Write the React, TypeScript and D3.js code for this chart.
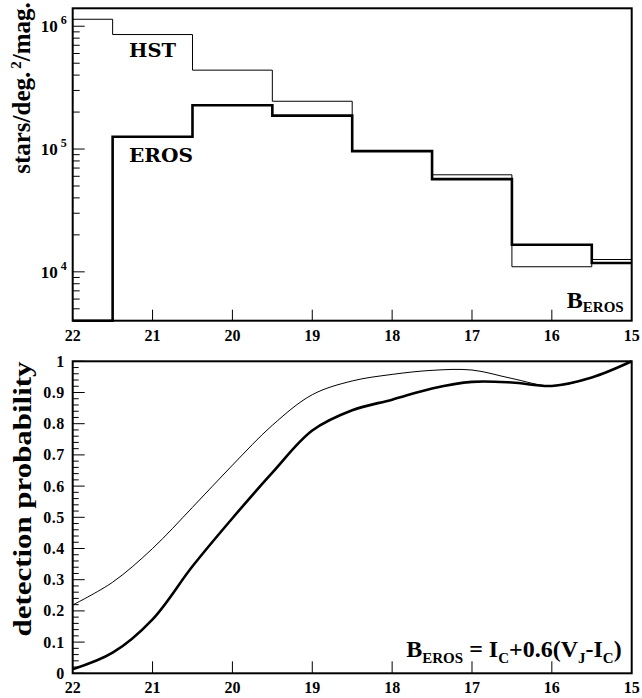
import React, { useEffect, useRef } from 'react';
import * as d3 from 'd3';

// histogram bins (B_EROS magnitude edges, faint -> bright)
const binEdges = [22, 21.5, 20.5, 19.5, 18.5, 17.5, 16.5, 15.5, 15];
const hstCounts = [1.14e6, 8.56e5, 4.39e5, 2.45e5, 9.62e4, 6.17e4, 1.1e4, 1.26e4];
const erosCounts = [1e3, 1.26e5, 2.27e5, 1.87e5, 9.62e4, 5.69e4, 1.66e4, 1.18e4];

// detection probability curves
const curveMag = [22, 21.5, 21, 20.5, 20, 19.5, 19, 18.5, 18, 17.5, 17, 16.5, 16, 15.5, 15];
const thinProb = [0.219, 0.292, 0.4, 0.532, 0.667, 0.795, 0.893, 0.937, 0.958, 0.971, 0.972, 0.945, 0.921, 0.948, 1.0];
const thickProb = [0.013, 0.066, 0.173, 0.343, 0.497, 0.643, 0.778, 0.843, 0.877, 0.913, 0.934, 0.932, 0.921, 0.948, 1.0];

const xTicks = [22, 21, 20, 19, 18, 17, 16, 15];
const decadeTicks = [4, 5, 6];
const probTicks = [0, 0.1, 0.2, 0.3, 0.4, 0.5, 0.6, 0.7, 0.8, 0.9, 1];

const W = 642;
const H = 698;
const SERIF = '"Liberation Serif", "Times New Roman", serif';
const SLAB = '"DejaVu Serif", serif';

export default function App() {
    const ref = useRef<SVGSVGElement>(null);

    useEffect(() => {
        if (!ref.current) return;
        const svg = d3.select(ref.current);
        svg.selectAll("*").remove();

        const left = 72.7, right = 631.7;
        const x = d3.scaleLinear().domain([22, 15]).range([left, right]);

        // ---------- top panel ----------
        const t0 = 8.3, t1 = 320.7;
        const yTop = d3.scaleLog().domain([4000, 1.4e6]).range([t1, t0]).clamp(true);

        const top = svg.append("g");

        const stepPath = (vals: number[]) => {
            let d = "";
            vals.forEach((v, i) => {
                const xa = x(binEdges[i]), xb = x(binEdges[i + 1]), yy = yTop(v);
                d += (i === 0 ? `M${xa},${yy}` : `L${xa},${yy}`) + `L${xb},${yy}`;
            });
            return d;
        };

        top.append("path").attr("d", stepPath(hstCounts))
            .attr("fill", "none").attr("stroke", "#000").attr("stroke-width", 1);
        top.append("path").attr("d", stepPath(erosCounts))
            .attr("fill", "none").attr("stroke", "#000").attr("stroke-width", 2.6);

        // y log ticks
        const minorVals: number[] = [];
        for (let e = 3; e <= 6; e++) for (let m = 1; m <= 9; m++) minorVals.push(m * Math.pow(10, e));
        minorVals.filter(v => v >= 4000 && v <= 1.4e6).forEach(v => {
            const major = Math.abs(Math.log10(v) - Math.round(Math.log10(v))) < 1e-9;
            top.append("line")
                .attr("x1", left).attr("x2", left + (major ? 12 : 7))
                .attr("y1", yTop(v)).attr("y2", yTop(v))
                .attr("stroke", "#000").attr("stroke-width", 1);
        });
        decadeTicks.forEach(e => {
            const t = top.append("text")
                .attr("x", left - 6).attr("y", yTop(Math.pow(10, e)) + 6)
                .attr("text-anchor", "end")
                .style("font-family", SERIF).style("font-weight", "bold").style("font-size", "17px");
            t.append("tspan").text("10");
            t.append("tspan").attr("dx", 3).attr("dy", -8).style("font-size", "12px").text(String(e));
        });

        // x ticks top panel
        xTicks.forEach(v => {
            if (v !== 22 && v !== 15) {
                top.append("line").attr("x1", x(v)).attr("x2", x(v))
                    .attr("y1", t1).attr("y2", t1 - 11).attr("stroke", "#000").attr("stroke-width", 1);
            }
            top.append("text").attr("x", x(v)).attr("y", t1 + 20)
                .attr("text-anchor", "middle")
                .style("font-family", SERIF).style("font-weight", "bold").style("font-size", "16px")
                .text(String(v));
        });

        top.append("rect").attr("x", left).attr("y", t0)
            .attr("width", right - left).attr("height", t1 - t0)
            .attr("fill", "none").attr("stroke", "#000").attr("stroke-width", 2);

        top.append("text").attr("x", 129).attr("y", 57.3)
            .attr("textLength", 47).attr("lengthAdjust", "spacingAndGlyphs")
            .style("font-family", SLAB).style("font-weight", "bold").style("font-size", "19px")
            .text("HST");
        top.append("text").attr("x", 129).attr("y", 161.7)
            .attr("textLength", 64).attr("lengthAdjust", "spacingAndGlyphs")
            .style("font-family", SLAB).style("font-weight", "bold").style("font-size", "19px")
            .text("EROS");

        const bl = top.append("text").attr("x", right - 8).attr("y", 308)
            .attr("text-anchor", "end")
            .style("font-family", SERIF).style("font-weight", "bold").style("font-size", "24px");
        bl.append("tspan").text("B");
        bl.append("tspan").attr("dy", 4).style("font-size", "15px").text("EROS");

        const yl = top.append("text")
            .attr("transform", `translate(30,88) rotate(-90)`)
            .attr("text-anchor", "middle")
            .style("font-family", SERIF).style("font-weight", "bold").style("font-size", "25px");
        yl.append("tspan").text("stars/deg.");
        yl.append("tspan").attr("dx", 3).attr("dy", -9).style("font-size", "15px").text("2");
        yl.append("tspan").attr("dy", 9).text("/mag.");

        // ---------- bottom panel ----------
        const b0 = 361.3, b1 = 673.3;
        const yBot = d3.scaleLinear().domain([0, 1]).range([b1, b0]);
        const bot = svg.append("g");

        const line = d3.line<[number, number]>()
            .x(d => x(d[0])).y(d => yBot(d[1]))
            .curve(d3.curveCatmullRom.alpha(0.5));

        bot.append("path").attr("d", line(curveMag.map((m, i) => [m, thinProb[i]]) as [number, number][]))
            .attr("fill", "none").attr("stroke", "#000").attr("stroke-width", 1);
        bot.append("path").attr("d", line(curveMag.map((m, i) => [m, thickProb[i]]) as [number, number][]))
            .attr("fill", "none").attr("stroke", "#000").attr("stroke-width", 2.6);

        d3.range(0, 51).forEach(i => {
            const v = i / 50;
            const major = i % 5 === 0;
            bot.append("line").attr("x1", left).attr("x2", left + (major ? 12 : 6))
                .attr("y1", yBot(v)).attr("y2", yBot(v))
                .attr("stroke", "#000").attr("stroke-width", 1);
        });
        probTicks.forEach(v => {
            bot.append("text").attr("x", left - 8).attr("y", yBot(v) + 5.5)
                .attr("text-anchor", "end")
                .style("font-family", SERIF).style("font-weight", "bold").style("font-size", "16px")
                .style("letter-spacing", "0.5px")
                .text(String(v));
        });

        xTicks.forEach(v => {
            if (v !== 22 && v !== 15) {
                bot.append("line").attr("x1", x(v)).attr("x2", x(v))
                    .attr("y1", b1).attr("y2", b1 - 12).attr("stroke", "#000").attr("stroke-width", 1);
            }
            bot.append("text").attr("x", x(v)).attr("y", b1 + 20)
                .attr("text-anchor", "middle")
                .style("font-family", SERIF).style("font-weight", "bold").style("font-size", "16px")
                .text(String(v));
        });

        bot.append("rect").attr("x", left).attr("y", b0)
            .attr("width", right - left).attr("height", b1 - b0)
            .attr("fill", "none").attr("stroke", "#000").attr("stroke-width", 2);

        bot.append("text")
            .attr("transform", `translate(31,499) rotate(-90)`)
            .attr("text-anchor", "middle")
            .attr("textLength", 275).attr("lengthAdjust", "spacingAndGlyphs")
            .style("font-family", SERIF).style("font-weight", "bold").style("font-size", "25px")
            .text("detection probability");

        const f = bot.append("text").attr("x", right - 10).attr("y", 657)
            .attr("text-anchor", "end")
            .style("font-family", SERIF).style("font-weight", "bold").style("font-size", "24px");
        f.append("tspan").text("B");
        f.append("tspan").attr("dy", 6).style("font-size", "15px").text("EROS");
        f.append("tspan").attr("dy", -6).text(" = I");
        f.append("tspan").attr("dy", 6).style("font-size", "15px").text("C");
        f.append("tspan").attr("dy", -6).text("+0.6(V");
        f.append("tspan").attr("dy", 6).style("font-size", "15px").text("J");
        f.append("tspan").attr("dy", -6).text("-I");
        f.append("tspan").attr("dy", 6).style("font-size", "15px").text("C");
        f.append("tspan").attr("dy", -6).text(")");
    }, []);

    return (
        <svg ref={ref} width={W} height={H}
            style={{ position: 'absolute', left: 0, top: 0, background: '#fff', display: 'block' }} />
    );
}
